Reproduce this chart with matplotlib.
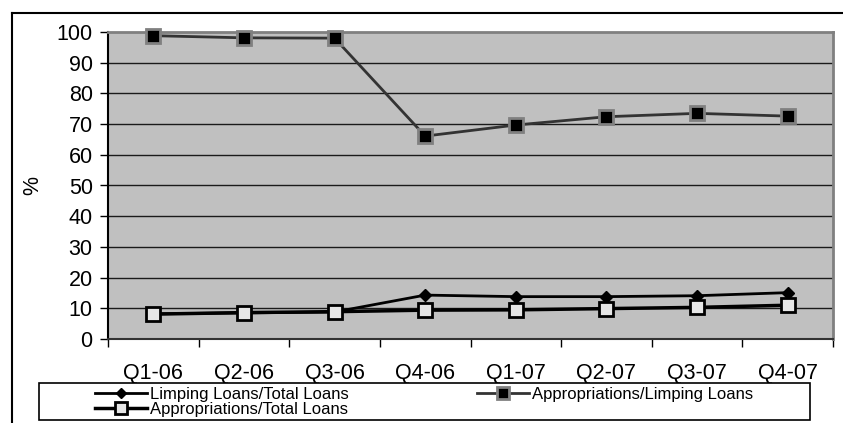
import matplotlib.pyplot as plt
from matplotlib.lines import Line2D
from matplotlib.patches import Rectangle

plt.rcParams['font.family'] = ['Liberation Sans', 'DejaVu Sans']

# Quarterly ratios (%)
quarters = ["Q1-06", "Q2-06", "Q3-06", "Q4-06", "Q1-07", "Q2-07", "Q3-07", "Q4-07"]
limping_total = [8.2, 8.5, 8.8, 14.3, 13.8, 13.8, 14.1, 15.1]
approp_limping = [98.8, 98.1, 98.0, 66.1, 69.7, 72.4, 73.5, 72.6]
approp_total = [8.1, 8.6, 8.9, 9.4, 9.5, 9.9, 10.3, 11.0]

W, H = 843, 423
fig = plt.figure(figsize=(W / 100, H / 100), dpi=100)
ax = fig.add_axes([108 / W, 1 - 339 / H, (833 - 108) / W, (339 - 32) / H])
ax.set_facecolor('#C0C0C0')

x = list(range(len(quarters)))

l1, = ax.plot(x, limping_total, color='black', lw=2, marker='D', ms=6.5,
              mfc='black', mec='black', clip_on=False, zorder=3,
              label='Limping Loans/Total Loans')
l2, = ax.plot(x, approp_limping, color='#333333', lw=2, marker='s', ms=10,
              mfc='black', mec='#808080', mew=2, clip_on=False, zorder=4,
              label='Appropriations/Limping Loans')
l3, = ax.plot(x, approp_total, color='black', lw=2.5, marker='s', ms=10.5,
              mfc='#E6E6E6', mec='black', mew=2, clip_on=False, zorder=5,
              label='Appropriations/Total Loans')

# axes
ax.set_xlim(-0.5, len(quarters) - 0.5)
ax.set_ylim(0, 100)
ax.set_yticks(range(0, 101, 10))
ax.set_xticks(x)
ax.set_xticklabels(quarters)
ax.set_xticks([i - 0.5 for i in range(len(quarters) + 1)], minor=True)
ax.tick_params(axis='x', which='major', length=0, pad=17, labelsize=15.5)
ax.tick_params(axis='x', which='minor', length=6, width=1, color='black')
ax.tick_params(axis='y', length=6, width=1, pad=5, labelsize=15.5)

# horizontal gridlines
for v in range(10, 100, 10):
    ax.axhline(v, color='#1A1A1A', lw=1, zorder=1)

ax.spines['left'].set_color('black')
ax.spines['left'].set_linewidth(1.5)
ax.spines['bottom'].set_color('#333333')
ax.spines['bottom'].set_linewidth(1.5)
for s in ['top', 'right']:
    ax.spines[s].set_color('#808080')
    ax.spines[s].set_linewidth(2)

ax.set_ylabel('%', fontsize=15.5)
ax.yaxis.set_label_coords((43 - 108) / (833 - 108), 0.5)

# legend box + legend
fig.patches.append(Rectangle((39 / W, 1 - 420 / H), (810 - 39) / W, (420 - 383) / H,
                             transform=fig.transFigure, facecolor='white',
                             edgecolor='black', lw=1.2))
fig.legend([l1, l3, l2], [l1.get_label(), l3.get_label(), l2.get_label()],
           ncol=2, frameon=False, loc='upper left',
           bbox_to_anchor=(95 / W, 1 - 387 / H), borderpad=0, borderaxespad=0,
           fontsize=12.0, handlelength=3.1, handletextpad=0.2,
           columnspacing=7.7, labelspacing=0.0, markerscale=0.8)

# outer frame lines
fig.lines.append(Line2D([12 / W, 1], [1 - 13 / H, 1 - 13 / H],
                        transform=fig.transFigure, color='black', lw=1.5))
fig.lines.append(Line2D([12 / W, 12 / W], [0, 1 - 13 / H],
                        transform=fig.transFigure, color='black', lw=1.5))

plt.savefig('out.png', dpi=100)
